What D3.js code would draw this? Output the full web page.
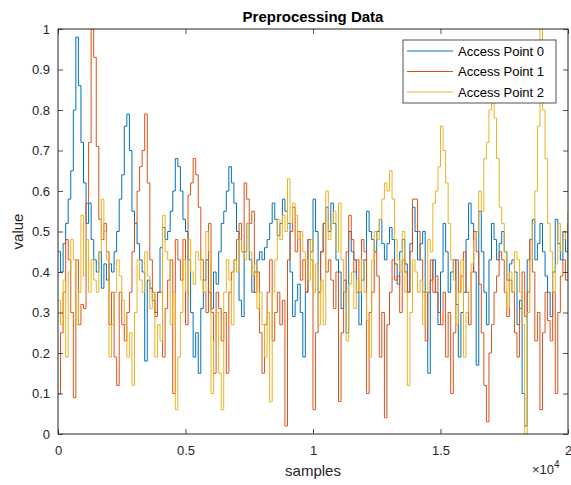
<!DOCTYPE html>
<html lang="en">
<head>
<meta charset="UTF-8">
<script src="https://cdnjs.cloudflare.com/ajax/libs/d3/7.8.5/d3.min.js"></script>
<style>
  body { margin: 0; background: #fff; font-family: 'Liberation Sans', Arial, sans-serif; }
  .tick text { font-size: 13px; fill: #262626; }
</style>
<title>Preprocessing Data</title>
</head>
<body>
<div id="chart"></div>
<script>
// one value every 100 samples, 0 .. 20000
const step = 100;
const seriesNames = ["Access Point 0", "Access Point 1", "Access Point 2"];
const colors = ["#0072BD", "#D95319", "#EDB120"];

const ap0 = [
  0.45,0.40,0.47,0.52,0.58,0.65,0.80,0.98,0.86,0.72,
  0.62,0.52,0.57,0.48,0.43,0.40,0.45,0.36,0.42,0.38,
  0.42,0.40,0.45,0.50,0.58,0.64,0.76,0.79,0.70,0.55,
  0.52,0.47,0.43,0.40,0.18,0.38,0.36,0.33,0.30,0.35,
  0.46,0.51,0.48,0.50,0.55,0.60,0.68,0.66,0.60,0.53,
  0.50,0.43,0.30,0.19,0.25,0.15,0.31,0.38,0.43,0.35,
  0.31,0.40,0.37,0.45,0.52,0.55,0.60,0.66,0.62,0.57,
  0.50,0.33,0.29,0.45,0.52,0.43,0.35,0.40,0.43,0.45,
  0.43,0.46,0.48,0.52,0.57,0.53,0.49,0.52,0.58,0.55,
  0.52,0.40,0.29,0.33,0.37,0.30,0.19,0.35,0.48,0.45,
  0.58,0.50,0.35,0.45,0.52,0.56,0.50,0.57,0.52,0.43,
  0.40,0.31,0.38,0.25,0.50,0.45,0.43,0.35,0.27,0.38,
  0.43,0.55,0.50,0.48,0.45,0.50,0.53,0.47,0.43,0.47,
  0.51,0.48,0.42,0.37,0.45,0.48,0.42,0.35,0.47,0.56,
  0.50,0.43,0.47,0.50,0.35,0.15,0.38,0.43,0.35,0.27,
  0.40,0.52,0.45,0.35,0.40,0.43,0.32,0.19,0.30,0.35,
  0.48,0.57,0.52,0.40,0.17,0.55,0.45,0.35,0.27,0.43,
  0.52,0.48,0.43,0.47,0.50,0.45,0.38,0.42,0.43,0.40,
  0.27,0.33,0.10,0.02,0.43,0.48,0.53,0.43,0.47,0.52,
  0.45,0.39,0.35,0.29,0.40,0.53,0.47,0.43,0.50,0.45,0.52
];

const ap1 = [
  0.10,0.25,0.35,0.48,0.43,0.30,0.09,0.43,0.27,0.32,
  0.31,0.57,0.72,1.00,0.93,0.71,0.53,0.48,0.52,0.45,
  0.27,0.35,0.19,0.12,0.35,0.27,0.23,0.30,0.35,0.45,
  0.52,0.60,0.66,0.70,0.79,0.62,0.43,0.35,0.29,0.35,
  0.35,0.19,0.31,0.38,0.43,0.10,0.48,0.43,0.38,0.48,
  0.27,0.59,0.62,0.68,0.64,0.56,0.43,0.35,0.30,0.52,
  0.30,0.15,0.35,0.31,0.23,0.30,0.15,0.35,0.40,0.43,
  0.48,0.52,0.45,0.62,0.58,0.52,0.55,0.35,0.40,0.25,
  0.15,0.27,0.35,0.43,0.23,0.30,0.35,0.27,0.33,0.02,
  0.43,0.50,0.56,0.45,0.50,0.38,0.43,0.35,0.48,0.43,
  0.06,0.25,0.35,0.45,0.52,0.40,0.43,0.38,0.31,0.40,
  0.08,0.25,0.35,0.45,0.54,0.48,0.40,0.43,0.35,0.48,
  0.45,0.10,0.30,0.35,0.45,0.39,0.19,0.30,0.04,0.27,
  0.35,0.43,0.38,0.39,0.30,0.43,0.40,0.35,0.45,0.58,
  0.58,0.50,0.43,0.35,0.23,0.35,0.43,0.35,0.39,0.30,
  0.27,0.35,0.19,0.30,0.10,0.25,0.43,0.35,0.39,0.45,
  0.35,0.27,0.40,0.50,0.45,0.37,0.25,0.12,0.03,0.20,
  0.27,0.35,0.39,0.45,0.43,0.35,0.29,0.38,0.35,0.25,
  0.19,0.31,0.40,0.29,0.35,0.48,0.40,0.23,0.30,0.06,
  0.25,0.35,0.28,0.23,0.35,0.10,0.30,0.39,0.43,0.38,0.52
];

const ap2 = [
  0.33,0.27,0.38,0.19,0.40,0.48,0.43,0.27,0.35,0.54,
  0.39,0.48,0.35,0.43,0.38,0.35,0.45,0.58,0.50,0.43,
  0.19,0.27,0.35,0.43,0.39,0.33,0.27,0.19,0.25,0.12,
  0.30,0.43,0.38,0.35,0.45,0.39,0.31,0.35,0.19,0.27,
  0.23,0.54,0.45,0.43,0.27,0.35,0.06,0.19,0.30,0.43,
  0.35,0.48,0.40,0.37,0.45,0.43,0.38,0.35,0.50,0.45,
  0.10,0.23,0.30,0.15,0.06,0.35,0.43,0.38,0.27,0.43,
  0.40,0.48,0.45,0.43,0.52,0.45,0.39,0.42,0.31,0.35,
  0.27,0.19,0.30,0.08,0.35,0.43,0.53,0.48,0.54,0.50,
  0.63,0.52,0.57,0.54,0.48,0.50,0.45,0.43,0.38,0.48,
  0.35,0.42,0.27,0.38,0.27,0.60,0.48,0.52,0.55,0.45,
  0.57,0.43,0.35,0.23,0.37,0.40,0.31,0.38,0.35,0.43,
  0.35,0.28,0.19,0.43,0.50,0.48,0.53,0.58,0.62,0.60,
  0.65,0.58,0.48,0.43,0.40,0.50,0.35,0.12,0.30,0.43,
  0.40,0.35,0.38,0.27,0.35,0.48,0.45,0.57,0.60,0.66,
  0.76,0.70,0.62,0.52,0.43,0.38,0.27,0.35,0.43,0.19,
  0.30,0.35,0.42,0.48,0.50,0.60,0.55,0.68,0.72,0.80,
  0.88,0.78,0.68,0.56,0.52,0.45,0.31,0.40,0.35,0.45,
  0.43,0.35,0.27,0.00,0.30,0.43,0.52,0.60,0.76,1.00,
  0.80,0.68,0.52,0.45,0.35,0.42,0.52,0.45,0.48,0.50,0.55
];

const xTicks = [0, 5000, 10000, 15000, 20000];
const xTickLabels = ["0", "0.5", "1", "1.5", "2"];
const yTicks = [0, 0.1, 0.2, 0.3, 0.4, 0.5, 0.6, 0.7, 0.8, 0.9, 1];

const W = 571, H = 485;
const margin = { top: 29, right: 3, bottom: 51, left: 58 };
const width = W - margin.left - margin.right,
  height = H - margin.top - margin.bottom;
const axisColor = "#262626";

const svg = d3.select("#chart").append("svg")
  .attr("width", W).attr("height", H);
const g = svg.append("g")
  .attr("transform", "translate(" + margin.left + "," + margin.top + ")");

const x = d3.scaleLinear().domain([0, 20000]).range([0, width]);
const y = d3.scaleLinear().domain([0, 1]).range([height, 0]);

g.append("defs").append("clipPath").attr("id", "clip")
  .append("rect").attr("width", width).attr("height", height);

// lines (quantised signal -> drawn as steps)
const line = d3.line()
  .curve(d3.curveStepAfter)
  .x(function (d, i) { return x(i * step); })
  .y(function (d) { return y(d); });

[ap0, ap1, ap2].forEach(function (s, k) {
  g.append("path")
    .datum(s)
    .attr("clip-path", "url(#clip)")
    .attr("fill", "none")
    .attr("stroke", colors[k])
    .attr("stroke-width", 1)
    .attr("d", line);
});

// axes, ticks inside, mirrored on the box
g.append("g").attr("transform", "translate(0," + height + ")")
  .call(d3.axisBottom(x).tickValues(xTicks)
    .tickFormat(function (d, i) { return xTickLabels[i]; })
    .tickSizeInner(-5).tickSizeOuter(0).tickPadding(12));
g.append("g")
  .call(d3.axisLeft(y).tickValues(yTicks).tickFormat(d3.format("~g"))
    .tickSizeInner(-5).tickSizeOuter(0).tickPadding(8));
g.append("g")
  .call(d3.axisTop(x).tickValues(xTicks).tickFormat("").tickSizeInner(-5).tickSizeOuter(0));
g.append("g").attr("transform", "translate(" + width + ",0)")
  .call(d3.axisRight(y).tickValues(yTicks).tickFormat("").tickSizeInner(-5).tickSizeOuter(0));

g.selectAll(".domain").remove();
g.selectAll(".tick line").attr("stroke", axisColor).attr("stroke-width", 0.8);

g.append("rect")
  .attr("width", width).attr("height", height)
  .attr("fill", "none").attr("stroke", axisColor).attr("stroke-width", 1);

// title and labels
svg.append("text")
  .attr("x", margin.left + width / 2).attr("y", 22)
  .attr("text-anchor", "middle")
  .attr("font-size", "15px").attr("font-weight", "bold").attr("fill", "#000")
  .text("Preprocessing Data");

svg.append("text")
  .attr("x", margin.left + width / 2).attr("y", 476)
  .attr("text-anchor", "middle")
  .attr("font-size", "15px").attr("fill", axisColor)
  .text("samples");

svg.append("text")
  .attr("transform", "translate(23," + (margin.top + height / 2) + ") rotate(-90)")
  .attr("text-anchor", "middle")
  .attr("font-size", "15px").attr("fill", axisColor)
  .text("value");

const exp = svg.append("text")
  .attr("x", 532).attr("y", 474)
  .attr("font-size", "13px").attr("fill", axisColor);
exp.append("tspan").text("\u00d710");
exp.append("tspan").attr("font-size", "10px").attr("dy", -6).text("4");

// legend
const lg = svg.append("g").attr("transform", "translate(403,40)");
lg.append("rect")
  .attr("width", 153).attr("height", 63)
  .attr("fill", "#fff").attr("stroke", axisColor).attr("stroke-width", 0.8);
seriesNames.forEach(function (name, k) {
  const yy = 11 + k * 20.5;
  lg.append("line")
    .attr("x1", 4).attr("x2", 50).attr("y1", yy).attr("y2", yy)
    .attr("stroke", colors[k]).attr("stroke-width", 1);
  lg.append("text")
    .attr("x", 55).attr("y", yy + 4.5)
    .attr("font-size", "13px").attr("fill", "#000")
    .text(name);
});
</script>
</body>
</html>
